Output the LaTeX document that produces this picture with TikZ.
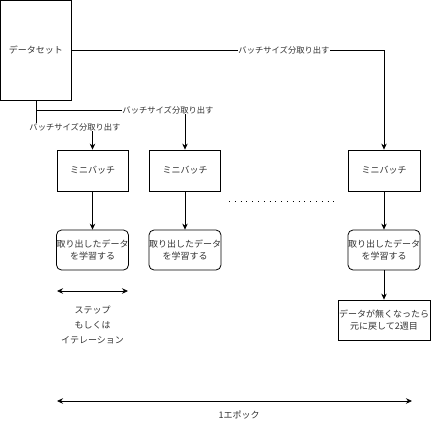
\documentclass[tikz,border=0pt]{standalone}
\usepackage{fontspec}
\setmainfont{Noto Sans CJK JP}
\usetikzlibrary{arrows.meta}
\begin{document}
\begin{tikzpicture}[x=1pt,y=-1pt,
  every node/.style={font=\fontsize{9}{12}\selectfont, text=black!80},
  box/.style={draw, line width=0.8pt, fill=white, inner sep=0pt, align=center},
  rbox/.style={box, rounded corners=5pt},
  lbl/.style={fill=white, inner sep=0.5pt, font=\fontsize{8.3}{10}\selectfont},
  conn/.style={line width=0.8pt, -{Stealth[length=6pt,width=5.5pt]}},
  darr/.style={line width=0.8pt, {Stealth[length=6pt,width=5.5pt]}-{Stealth[length=6pt,width=5.5pt]}},
  ]
\useasboundingbox (0,0) rectangle (431,431);
\fill[white] (0,0) rectangle (431,431);

\node[box, minimum width=71pt, minimum height=100pt] (ds) at (36,50) {データセット};

\node[box, minimum width=71pt, minimum height=41pt] (mb1) at (92.5,170.5) {ミニバッチ};
\node[box, minimum width=71pt, minimum height=41pt] (mb2) at (185,170.5) {ミニバッチ};
\node[box, minimum width=72pt, minimum height=41pt] (mb3) at (384,170.5) {ミニバッチ};

\node[rbox, minimum width=71pt, minimum height=40pt] (rb1) at (92.5,250) {取り出したデータ\\を学習する};
\node[rbox, minimum width=71pt, minimum height=40pt] (rb2) at (185,250) {取り出したデータ\\を学習する};
\node[rbox, minimum width=72pt, minimum height=40pt] (rb3) at (384,250) {取り出したデータ\\を学習する};

\node[box, minimum width=92pt, minimum height=40pt] (end) at (384,320) {データが無くなったら\\元に戻して2週目};

% connectors from dataset
\coordinate (c1) at (384,50);
\draw[conn] (ds.east) -- (c1) -- (mb3.north);
\node[lbl] (l1) at (284,50) {バッチサイズ分取り出す};

\coordinate (c2a) at (36,110);
\coordinate (c2b) at (185,110);
\draw[conn] (ds.south) -- (c2a) -- (c2b) -- (mb2.north);
\node[lbl] (l2) at (168,110) {バッチサイズ分取り出す};

\coordinate (c3a) at (36,127);
\coordinate (c3b) at (92.5,127);
\draw[conn] (ds.south) -- (c3a) -- (c3b) -- (mb1.north);
\node[lbl] (l3) at (75,127) {バッチサイズ分取り出す};

\draw[conn] (mb1) -- (rb1);
\draw[conn] (mb2) -- (rb2);
\draw[conn] (mb3) -- (rb3);
\draw[conn] (rb3) -- (end);

% dots
\coordinate (d1) at (229,201);
\coordinate (d2) at (338,201);
\draw[line width=1pt, dash pattern=on 1pt off 4.8pt] (d1) -- (d2);

% step
\coordinate (s1) at (57,291);
\coordinate (s2) at (128,291);
\draw[darr] (s1) -- (s2);
\node[align=center, font=\fontsize{9}{15}\selectfont] (st) at (92.5,325) {ステップ\\もしくは\\イテレーション};

% epoch
\coordinate (e1) at (57,401);
\coordinate (e2) at (412,401);
\draw[darr] (e1) -- (e2);
\node (ep) at (239,415) {1エポック};
\end{tikzpicture}
\end{document}
